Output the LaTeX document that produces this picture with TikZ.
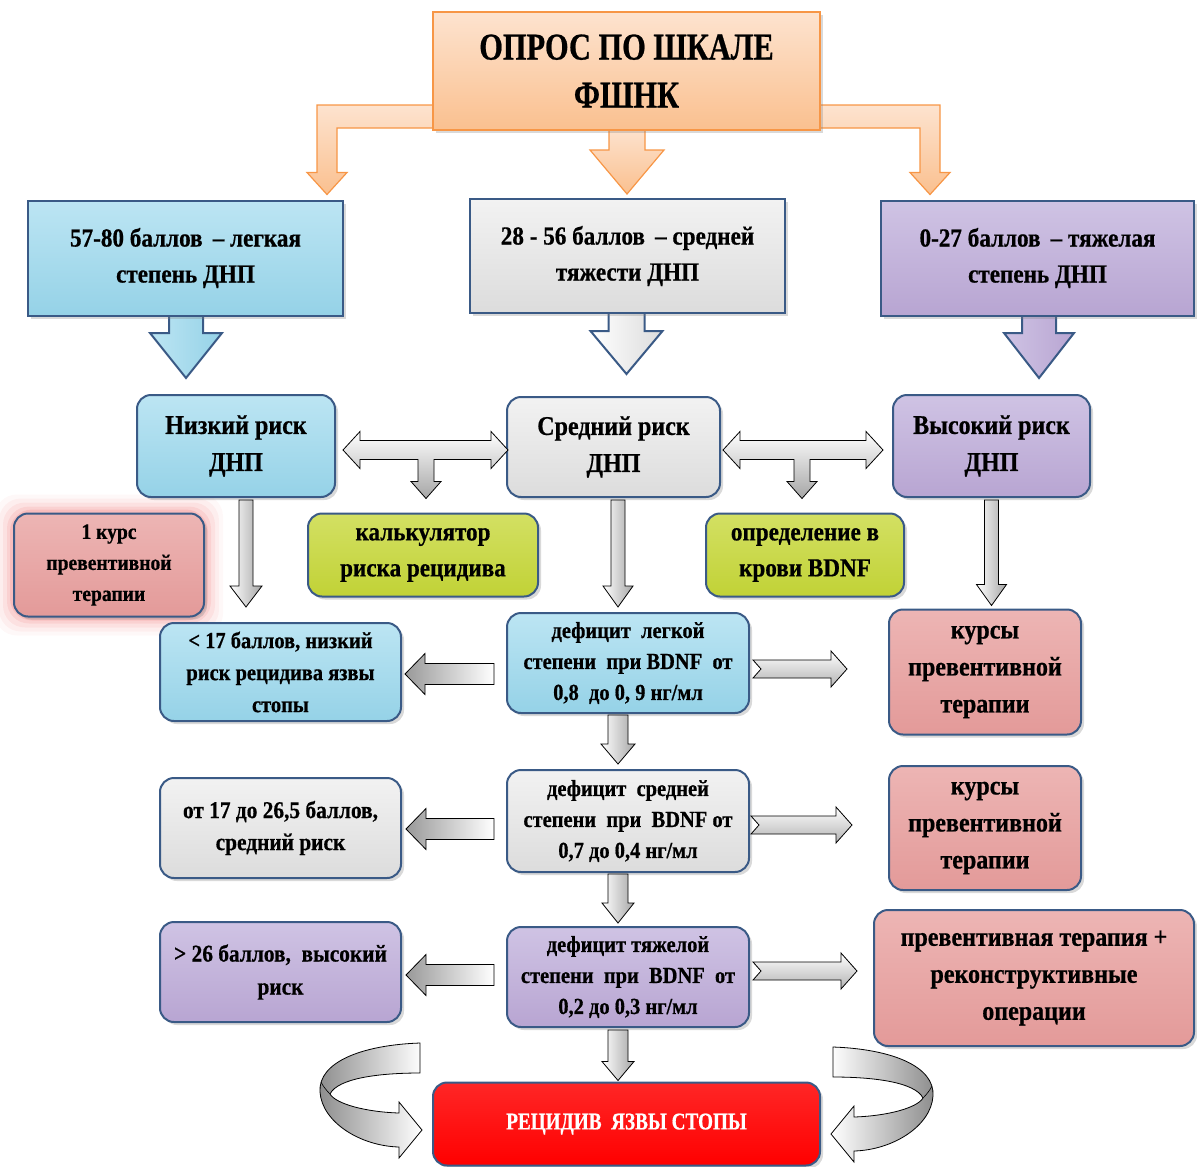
\documentclass[tikz,border=0pt]{standalone}
\usepackage{fontspec}
\setmainfont{Liberation Serif}[FakeStretch=0.89,FakeBold=0.6]
\newfontfamily\narrowfont{Liberation Serif}[FakeStretch=0.8,FakeBold=0.6]
\usetikzlibrary{calc,shadows}
\definecolor{bordc}{HTML}{3A5A86}
\definecolor{blueL}{HTML}{BCE5F3}
\definecolor{blueD}{HTML}{95D2E7}
\definecolor{grayL}{HTML}{F2F2F2}
\definecolor{grayD}{HTML}{DCDCDC}
\definecolor{purL}{HTML}{CFC3E4}
\definecolor{purD}{HTML}{B8A5D2}
\definecolor{pinkL}{HTML}{EDB5B4}
\definecolor{pinkD}{HTML}{E39A99}
\definecolor{ygL}{HTML}{D3E063}
\definecolor{ygD}{HTML}{C1D236}
\definecolor{orL}{HTML}{FDE3CF}
\definecolor{orD}{HTML}{FAC08F}
\definecolor{orB}{HTML}{F79646}
\definecolor{glowc}{HTML}{F07070}
\pgfdeclarelayer{bg}
\pgfsetlayers{bg,main}
\tikzset{
  base/.style={draw=bordc, line width=2pt, align=center, inner sep=0pt, text=black},
  sq/.style={base, drop shadow={opacity=0.3,shadow xshift=3pt,shadow yshift=-3pt}},
  rnd/.style={base, rounded corners=14pt, drop shadow={opacity=0.3,shadow xshift=3pt,shadow yshift=-3pt}},
  fblue/.style={top color=blueL, bottom color=blueD},
  fgray/.style={top color=grayL, bottom color=grayD},
  fpur/.style={top color=purL, bottom color=purD},
  fpink/.style={top color=pinkL, bottom color=pinkD},
  fyg/.style={top color=ygL, bottom color=ygD},
  fs/.style 2 args={font=\fontsize{#1pt}{#2pt}\selectfont\bfseries},
  fsn/.style 2 args={font=\narrowfont\fontsize{#1pt}{#2pt}\selectfont\bfseries},
  garrV/.style={draw=black, line width=0.8pt, left color=white, right color=black!35},
  garrL/.style={draw=black, line width=0.8pt, left color=black!40, right color=white},
  garrR/.style={draw=black, line width=0.8pt, top color=white, bottom color=black!30},
  garrT/.style={draw=black, line width=0.8pt, top color=white, bottom color=black!35},
  bigblue/.style={draw=bordc, line width=2pt, left color=blueL, right color=blueD},
  biggray/.style={draw=bordc, line width=2pt, left color=white, right color=grayD},
  bigpur/.style={draw=bordc, line width=2pt, left color=purL, right color=purD},
  orarr/.style={draw=orB, line width=1.2pt, top color=orL, bottom color=orD},
}
% vertical down arrow: #1 start, #2 tip, #3 shaft half, #4 head half, #5 head length, #6 style
\newcommand\DArr[6]{\path[#6] let \p1=#1, \p2=#2 in
  ({\x2-#3pt},\y1) -- ({\x2+#3pt},\y1) -- ({\x2+#3pt},{\y2+#5pt}) -- ({\x2+#4pt},{\y2+#5pt})
  -- (\x2,\y2) -- ({\x2-#4pt},{\y2+#5pt}) -- ({\x2-#3pt},{\y2+#5pt}) -- cycle;}
% left arrow: #1 tail (right), #2 tip (left)
\newcommand\LArr[6]{\path[#6] let \p1=#1, \p2=#2 in
  (\x1,{\y1+#3pt}) -- ({\x2+#5pt},{\y1+#3pt}) -- ({\x2+#5pt},{\y1+#4pt}) -- (\x2,\y1)
  -- ({\x2+#5pt},{\y1-#4pt}) -- ({\x2+#5pt},{\y1-#3pt}) -- (\x1,{\y1-#3pt}) -- cycle;}
% right arrow with notched tail: #7 notch
\newcommand\RArr[7]{\path[#6] let \p1=#1, \p2=#2 in
  (\x1,{\y1+#3pt}) -- ({\x2-#5pt},{\y1+#3pt}) -- ({\x2-#5pt},{\y1+#4pt}) -- (\x2,\y1)
  -- ({\x2-#5pt},{\y1-#4pt}) -- ({\x2-#5pt},{\y1-#3pt}) -- (\x1,{\y1-#3pt}) -- ({\x1+#7pt},\y1) -- cycle;}
% double arrow with T branch: #1 left tip, #2 right tip, #3 branch tip, #4 style
\newcommand\DArrT[4]{\path[#4] let \p1=#1, \p2=#2, \p3=#3 in
  (\x1,\y1) -- ({\x1+17pt},{\y1+18.5pt}) -- ({\x1+17pt},{\y1+9.5pt}) -- ({\x2-17pt},{\y1+9.5pt})
  -- ({\x2-17pt},{\y1+18.5pt}) -- (\x2,\y1) -- ({\x2-17pt},{\y1-18.5pt}) -- ({\x2-17pt},{\y1-9.5pt})
  -- ({\x3+8pt},{\y1-9.5pt}) -- ({\x3+8pt},{\y3+17pt}) -- ({\x3+15pt},{\y3+17pt}) -- (\x3,\y3)
  -- ({\x3-15pt},{\y3+17pt}) -- ({\x3-8pt},{\y3+17pt}) -- ({\x3-8pt},{\y1-9.5pt})
  -- ({\x1+17pt},{\y1-9.5pt}) -- ({\x1+17pt},{\y1-18.5pt}) -- cycle;}

\begin{document}
\begin{tikzpicture}[x=1pt,y=-1pt]
\useasboundingbox (0,0) rectangle (1197,1167);

% ---------- nodes ----------
\node[sq, top color=orL, bottom color=orD, draw=orB, fsn={38}{48}, minimum width=387pt, minimum height=118pt] (top) at (626.5,71) {ОПРОС ПО ШКАЛЕ\\ФШНК};

\node[sq, fblue, fs={26}{36}, minimum width=315pt, minimum height=115pt] (b1) at (185.5,258) {57-80 баллов \,– легкая\\степень ДНП};
\node[sq, fgray, fs={26}{36}, minimum width=315pt, minimum height=114pt] (b2) at (627.5,256) {28 - 56 баллов \,– средней\\тяжести ДНП};
\node[sq, fpur, fs={26}{36}, minimum width=313pt, minimum height=115pt] (b3) at (1037.5,258) {0-27 баллов \,– тяжелая\\степень ДНП};

\node[rnd, fblue, fs={27}{37}, minimum width=198pt, minimum height=102pt] (r1) at (236,446) {Низкий риск\\ДНП};
\node[rnd, fgray, fs={27}{37}, minimum width=213pt, minimum height=100pt] (r2) at (613.5,447) {Средний риск\\ДНП};
\node[rnd, fpur, fs={27}{37}, minimum width=197pt, minimum height=102pt] (r3) at (991.5,446) {Высокий риск\\ДНП};

\node[rnd, fyg, fs={26}{36}, minimum width=230pt, minimum height=83pt] (calc) at (423,555) {калькулятор\\риска рецидива};
\node[rnd, fyg, fs={26}{36}, minimum width=198pt, minimum height=83pt] (bdnf) at (805,555) {определение в\\крови BDNF};
\node[rnd, fpink, fs={22}{31}, minimum width=190pt, minimum height=103pt] (kurs1) at (109,565) {1 курс\\превентивной\\терапии};

\node[rnd, fblue, fs={23}{32}, minimum width=241pt, minimum height=98pt] (low) at (280.5,672) {< 17 баллов, низкий\\риск рецидива язвы\\стопы};
\node[rnd, fblue, fs={23}{31}, minimum width=242pt, minimum height=100pt] (def1) at (628,663) {дефицит \ легкой\\степени \ при BDNF \ от\\0,8 \ до 0, 9 нг/мл};
\node[rnd, fpink, fs={27}{37}, minimum width=192pt, minimum height=125pt] (kursA) at (985,672) {курсы\\превентивной\\терапии};

\node[rnd, fgray, fs={24}{32}, minimum width=241pt, minimum height=100pt] (mid) at (280.5,828) {от 17 до 26,5 баллов,\\средний риск};
\node[rnd, fgray, fs={23}{31}, minimum width=242pt, minimum height=102pt] (def2) at (628,821) {дефицит \ средней\\степени \ при \ BDNF от\\0,7 до 0,4 нг/мл};
\node[rnd, fpink, fs={27}{37}, minimum width=192pt, minimum height=124pt] (kursB) at (985,828) {курсы\\превентивной\\терапии};

\node[rnd, fpur, fs={24}{33}, minimum width=241pt, minimum height=100pt] (high) at (280.5,972) {> 26 баллов, \ высокий\\риск};
\node[rnd, fpur, fs={23}{31}, minimum width=242pt, minimum height=100pt] (def3) at (628,977) {дефицит тяжелой\\степени \ при \ BDNF \ от\\0,2 до 0,3 нг/мл};
\node[rnd, fpink, fs={27}{37}, minimum width=320pt, minimum height=136pt] (oper) at (1034,978) {превентивная терапия +\\реконструктивные\\операции};

\node[rnd, top color=red!85!white, bottom color=red, fsn={24}{30}, text=white, minimum width=387pt, minimum height=83pt] (red) at (626.5,1124) {РЕЦИДИВ \ ЯЗВЫ СТОПЫ};

% ---------- background arrows ----------
\begin{pgfonlayer}{bg}
% glow
\foreach \g/\o in {18/0.05,14/0.07,10/0.1,6/0.14,3/0.2}
  \fill[glowc, opacity=\o, rounded corners=22pt] ($(kurs1.south west)+(-\g,\g)$) rectangle ($(kurs1.north east)+(\g,-\g)$);
% orange arrows from top
\path[orarr] let \p1=(top.west), \p2=($(b1.north east)+(-17,-5)$) in
  ({\x1+5pt},{\y1-34pt}) -- ({\x2-10pt},{\y1-34pt}) -- ({\x2-10pt},{\y2+22pt}) -- ({\x2-20pt},{\y2+22pt})
  -- (\x2,\y2) -- ({\x2+20pt},{\y2+22pt}) -- ({\x2+10pt},{\y2+22pt}) -- ({\x2+10pt},{\y1-57pt}) -- ({\x1+5pt},{\y1-57pt}) -- cycle;
\path[orarr] let \p1=(top.east), \p2=($(b3.north west)+(50,-5)$) in
  ({\x1-5pt},{\y1-34pt}) -- ({\x2+10pt},{\y1-34pt}) -- ({\x2+10pt},{\y2+22pt}) -- ({\x2+20pt},{\y2+22pt})
  -- (\x2,\y2) -- ({\x2-20pt},{\y2+22pt}) -- ({\x2-10pt},{\y2+22pt}) -- ({\x2-10pt},{\y1-57pt}) -- ({\x1-5pt},{\y1-57pt}) -- cycle;
\DArr{($(top.south)+(0,-4)$)}{($(b2.north)+(-0.5,-4)$)}{18}{37}{44}{orarr}
% big arrows row1 -> row2
\DArr{($(b1.south)+(0.5,-15)$)}{($(r1.north)+(-50,-16)$)}{17}{36}{45}{bigblue}
\DArr{($(b2.south)+(-1,-15)$)}{($(r2.north)+(13,-22)$)}{18}{36}{43}{biggray}
\DArr{($(b3.south)+(1.5,-15)$)}{($(r3.north)+(47.5,-16)$)}{17}{35}{45}{bigpur}
\end{pgfonlayer}

% ---------- gray arrows ----------
\DArrT{($(r1.east)+(7,4)$)}{($(r2.west)+(2,3)$)}{($(calc.north)+(3,-14)$)}{garrT}
\DArrT{($(r2.east)+(2,3)$)}{($(r3.west)+(-9,4)$)}{($(bdnf.north)+(-3,-14)$)}{garrT}

\DArr{($(r1.south)+(10,2)$)}{($(low.north)+(-34.5,-15)$)}{7}{16}{21}{garrV}
\DArr{($(r2.south)+(4.5,2)$)}{($(def1.north)+(-10,-5)$)}{7}{15}{21}{garrV}
\DArr{($(r3.south)+(0,2)$)}{($(kursA.north)+(6.5,-3)$)}{7}{15}{21}{garrV}
\DArr{($(def1.south)+(-10,1)$)}{($(def2.north)+(-10,-5)$)}{10}{17}{20}{garrV}
\DArr{($(def2.south)+(-10,1)$)}{($(def3.north)+(-10,-3)$)}{10}{16}{20}{garrV}
\DArr{($(def3.south)+(-10,2)$)}{($(red.north)+(-8.5,-1)$)}{10}{16}{19}{garrV}

\LArr{($(def1.west)+(-12,11)$)}{($(low.east)+(3,2)$)}{10.5}{20.5}{20}{garrL}
\LArr{($(def2.west)+(-12,8)$)}{($(mid.east)+(4,1)$)}{10.5}{20.5}{20}{garrL}
\LArr{($(def3.west)+(-12,-2)$)}{($(high.east)+(4,3)$)}{10.5}{20.5}{20}{garrL}

\RArr{($(def1.east)+(3,6)$)}{($(kursA.west)+(-41,0)$)}{9}{18}{16}{garrR}{8}
\RArr{($(def2.east)+(1,4)$)}{($(kursB.west)+(-36,0)$)}{9}{18}{16}{garrR}{8}
\RArr{($(def3.east)+(3,-6)$)}{($(oper.west)+(-16,0)$)}{9}{18}{16}{garrR}{8}

% ---------- curved arrows ----------
\path[draw=black, line width=0.8pt, left color=black!45, right color=white]
  (420,1043) .. controls (362,1045) and (318,1062) .. (320,1092)
  .. controls (322,1122) and (360,1146) .. (399,1147)
  -- (399,1158) -- (422,1130) -- (399,1102) -- (399,1113)
  .. controls (366,1112) and (336,1104) .. (330,1094)
  .. controls (338,1078) and (380,1073) .. (420,1073) -- cycle;
\draw[black, line width=0.6pt] (330,1094) .. controls (326,1090) and (323,1086) .. (321,1082);
\path[draw=black, line width=0.8pt, right color=black!45, left color=white]
  (833,1047) .. controls (891,1049) and (935,1066) .. (933,1096)
  .. controls (931,1126) and (893,1150) .. (854,1151)
  -- (854,1162) -- (831,1134) -- (854,1106) -- (854,1117)
  .. controls (887,1116) and (917,1108) .. (923,1098)
  .. controls (915,1082) and (873,1077) .. (833,1077) -- cycle;
\draw[black, line width=0.6pt] (923,1098) .. controls (927,1094) and (930,1090) .. (932,1086);
\end{tikzpicture}
\end{document}
